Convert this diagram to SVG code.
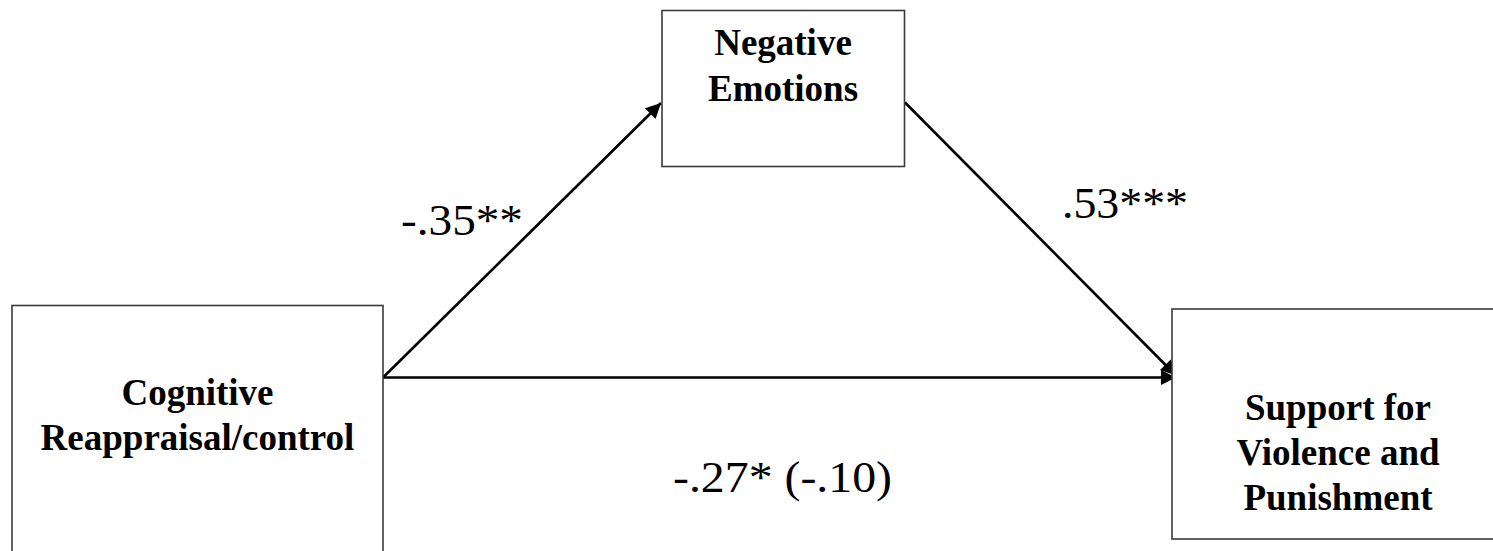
<svg xmlns="http://www.w3.org/2000/svg" width="1493" height="551" viewBox="0 0 1493 551">
<defs>
<style>
.box{fill:#fff;stroke:#3a3a3a;stroke-width:1.6}
.nt{font-weight:bold;font-size:37px;fill:#000;text-anchor:middle}
.lb{font-size:45px;fill:#000}
.ed{stroke:#000;stroke-width:2.6;fill:none;marker-end:url(#ah)}
</style>
<marker id="ah" viewBox="0 0 10 10" refX="10" refY="5" markerWidth="7" markerHeight="5.8" markerUnits="strokeWidth" orient="auto">
<path d="M0,0 L10,5 L0,10 z" fill="#000"/>
</marker>
</defs>
<rect width="1493" height="551" fill="#fff"/>
<g id="connectors">
<line class="ed" x1="383" y1="377.5" x2="661" y2="103"/>
<line class="ed" x1="905" y1="102.5" x2="1176" y2="375.5"/>
<line class="ed" x1="383" y1="377.5" x2="1176" y2="377.5"/>
</g>
<g id="node-cognitive" font-family="Liberation Serif, serif">
<rect class="box" x="12" y="305.5" width="371" height="260"/>
<text class="nt" x="197.5" y="405">Cognitive</text>
<text class="nt" x="197.5" y="450">Reappraisal/control</text>
</g>
<g id="node-negative" font-family="Liberation Serif, serif">
<rect class="box" x="662" y="10.5" width="242.5" height="156"/>
<text class="nt" x="783" y="55">Negative</text>
<text class="nt" x="783" y="101">Emotions</text>
</g>
<g id="node-support" font-family="Liberation Serif, serif">
<rect class="box" x="1172" y="309" width="335" height="230"/>
<text class="nt" x="1338" y="420">Support for</text>
<text class="nt" x="1338" y="465">Violence and</text>
<text class="nt" x="1338" y="510">Punishment</text>
</g>
<g id="labels" font-family="Liberation Serif, serif">
<text class="lb" x="401" y="235" textLength="122" lengthAdjust="spacingAndGlyphs">-.35**</text>
<text class="lb" x="1062" y="218" textLength="126" lengthAdjust="spacingAndGlyphs">.53***</text>
<text class="lb" x="673" y="492" textLength="219" lengthAdjust="spacingAndGlyphs">-.27* (-.10)</text>
</g>
</svg>
